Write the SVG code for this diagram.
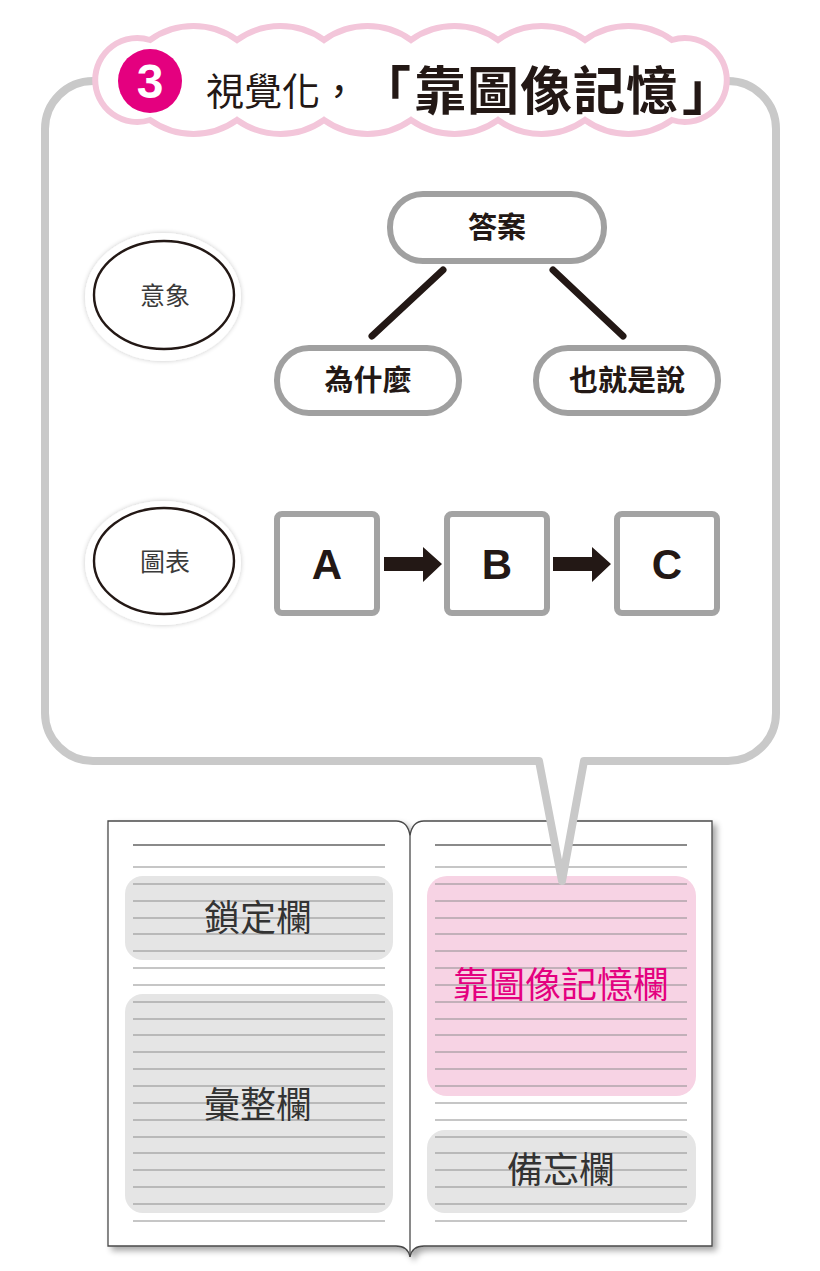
<svg xmlns="http://www.w3.org/2000/svg" xmlns:xlink="http://www.w3.org/1999/xlink" width="820" height="1271" viewBox="0 0 820 1271">
<defs>
<style>
.cjk{font-family:"Noto Sans CJK TC","Noto Sans CJK SC",sans-serif;}
.pill{fill:#fff;stroke:#a0a0a0;stroke-width:6;}
.box{fill:#fff;stroke:#a3a3a3;stroke-width:6;}
.pilltxt{font-family:"Noto Sans CJK TC",sans-serif;font-weight:700;font-size:29px;fill:#231815;text-anchor:middle;}
.letter{font-family:"Liberation Sans",Arial,sans-serif;font-weight:700;font-size:42px;fill:#231815;text-anchor:middle;}
.oval{fill:#fff;stroke:#231815;stroke-width:2.4;}
.ovaltxt{font-family:"Noto Sans CJK TC",sans-serif;font-size:25px;fill:#3a3a3a;text-anchor:middle;}
.rule{stroke:#8e8e8e;stroke-width:1.2;}
.coltxt{font-family:"Noto Sans CJK TC",sans-serif;font-size:36px;fill:#333;text-anchor:middle;}
.conn{stroke:#231815;stroke-width:7;stroke-linecap:round;fill:none;}
.arrow{fill:#231815;}
</style>
<filter id="halo" x="-20%" y="-20%" width="140%" height="140%">
<feGaussianBlur in="SourceAlpha" stdDeviation="2.5"/>
<feComponentTransfer><feFuncA type="linear" slope="0.22"/></feComponentTransfer>
<feMerge><feMergeNode/><feMergeNode in="SourceGraphic"/></feMerge>
</filter>
<filter id="pageshadow" x="-5%" y="-5%" width="112%" height="112%">
<feGaussianBlur in="SourceAlpha" stdDeviation="3"/>
<feOffset dx="4" dy="4"/>
<feComponentTransfer><feFuncA type="linear" slope="0.35"/></feComponentTransfer>
<feMerge><feMergeNode/><feMergeNode in="SourceGraphic"/></feMerge>
</filter>
<g id="rules">
<line class="rule" x1="133" y1="845" x2="385" y2="845" style="stroke-width:2;stroke:#8a8a8a"/>
<line class="rule" x1="133" y1="867" x2="385" y2="867"/>
<line class="rule" x1="133" y1="884" x2="385" y2="884"/>
<line class="rule" x1="133" y1="901" x2="385" y2="901"/>
<line class="rule" x1="133" y1="918" x2="385" y2="918"/>
<line class="rule" x1="133" y1="934" x2="385" y2="934"/>
<line class="rule" x1="133" y1="951" x2="385" y2="951"/>
<line class="rule" x1="133" y1="968" x2="385" y2="968"/>
<line class="rule" x1="133" y1="985" x2="385" y2="985"/>
<line class="rule" x1="133" y1="1002" x2="385" y2="1002"/>
<line class="rule" x1="133" y1="1019" x2="385" y2="1019"/>
<line class="rule" x1="133" y1="1035" x2="385" y2="1035"/>
<line class="rule" x1="133" y1="1052" x2="385" y2="1052"/>
<line class="rule" x1="133" y1="1069" x2="385" y2="1069"/>
<line class="rule" x1="133" y1="1086" x2="385" y2="1086"/>
<line class="rule" x1="133" y1="1103" x2="385" y2="1103"/>
<line class="rule" x1="133" y1="1120" x2="385" y2="1120"/>
<line class="rule" x1="133" y1="1137" x2="385" y2="1137"/>
<line class="rule" x1="133" y1="1153" x2="385" y2="1153"/>
<line class="rule" x1="133" y1="1170" x2="385" y2="1170"/>
<line class="rule" x1="133" y1="1187" x2="385" y2="1187"/>
<line class="rule" x1="133" y1="1204" x2="385" y2="1204"/>
<line class="rule" x1="133" y1="1221" x2="385" y2="1221"/>
</g>
</defs>
<rect width="820" height="1271" fill="#fff"/>

<!-- notebook -->
<g id="notebook">
<path d="M108,821 H396 Q408,821 410,836 Q412,821 424,821 H712 V1246 H424 Q412,1246 410,1257 Q408,1246 396,1246 H108 Z" fill="#fff" stroke="#4a4a4a" stroke-width="1.3" filter="url(#pageshadow)"/>
<line x1="410" y1="836" x2="410" y2="1257" stroke="#4a4a4a" stroke-width="1.3"/>
<rect x="125" y="876" width="268" height="84" rx="18" fill="#e5e5e5"/>
<rect x="125" y="994" width="268" height="219" rx="18" fill="#e5e5e5"/>
<rect x="427" y="876" width="269" height="220" rx="20" fill="#f7d3e4"/>
<rect x="427" y="1130" width="269" height="83" rx="18" fill="#e5e5e5"/>
<use xlink:href="#rules"/>
<use xlink:href="#rules" transform="translate(302,0)"/>
</g>
<g id="col-lock"><text class="coltxt" x="258" y="931">鎖定欄</text></g>
<g id="col-summary"><text class="coltxt" x="258" y="1118">彙整欄</text></g>
<g id="col-image"><text class="coltxt" x="561" y="998" style="fill:#e4007f">靠圖像記憶欄</text></g>
<g id="col-memo"><text class="coltxt" x="561" y="1183">備忘欄</text></g>

<!-- speech bubble -->
<g id="bubble">
<path d="M93,81 H728 A48,48 0 0 1 776,129 V713 A48,48 0 0 1 728,761 H584 L562,881 L539,761 H93 A48,48 0 0 1 45,713 V129 A48,48 0 0 1 93,81 Z" fill="#fff" stroke="#c9c9c9" stroke-width="8" stroke-linejoin="round"/>
</g>

<!-- title cloud -->
<g id="title">
<path d="M150,40 A75,75 0 0 1 237,40 A75,75 0 0 1 324,40 A75,75 0 0 1 411,40 A75,75 0 0 1 498,40 A75,75 0 0 1 585,40 A75,75 0 0 1 672,40 A42,42 0 1 1 672,120 A75,75 0 0 1 585,120 A75,75 0 0 1 498,120 A75,75 0 0 1 411,120 A75,75 0 0 1 324,120 A75,75 0 0 1 237,120 A75,75 0 0 1 150,120 A42,42 0 1 1 150,40 Z" fill="#fff" stroke="#f3c6da" stroke-width="6"/>
<circle cx="150" cy="81" r="32" fill="#e4007f"/>
<text x="150" y="98" font-family="Liberation Sans, Arial, sans-serif" font-weight="700" font-size="48" fill="#fff" text-anchor="middle">3</text>
<text class="cjk" fill="#231815"><tspan x="206" y="105" font-size="38">視覺化，</tspan><tspan x="359" y="110" font-size="52" font-weight="700">「</tspan><tspan x="414" y="110" font-size="52" font-weight="700" letter-spacing="1">靠圖像記憶</tspan><tspan x="682" y="110" font-size="52" font-weight="700">」</tspan></text>
</g>

<!-- image section -->
<g id="oval-image">
<ellipse cx="163" cy="297" rx="78" ry="64" fill="#fff" filter="url(#halo)"/>
<ellipse class="oval" cx="164" cy="295" rx="70" ry="54"/>
<text class="ovaltxt" x="165" y="305">意象</text>
</g>
<g id="oval-chart">
<ellipse cx="163" cy="563" rx="78" ry="62" fill="#fff" filter="url(#halo)"/>
<ellipse class="oval" cx="164" cy="561" rx="70" ry="53"/>
<text class="ovaltxt" x="165" y="571">圖表</text>
</g>

<g id="connectors">
<line class="conn" x1="443" y1="270" x2="372" y2="336"/>
<line class="conn" x1="553" y1="270" x2="623" y2="336"/>
<path class="arrow" d="M384,557 H423 V547 L442,564 L423,582 V571 H384 Z"/>
<path class="arrow" d="M553,557 H592 V547 L611,564 L592,582 V571 H553 Z"/>
</g>

<g id="node-answer"><rect class="pill" x="390" y="194" width="214" height="67" rx="33"/><text class="pilltxt" x="497" y="238">答案</text></g>
<g id="node-why"><rect class="pill" x="277" y="348" width="182" height="65" rx="32"/><text class="pilltxt" x="368" y="391">為什麼</text></g>
<g id="node-meaning"><rect class="pill" x="536" y="348" width="182" height="65" rx="32"/><text class="pilltxt" x="627" y="391">也就是說</text></g>

<g id="box-a"><rect class="box" x="277" y="514" width="100" height="99" rx="5"/><text class="letter" x="327" y="579">A</text></g>
<g id="box-b"><rect class="box" x="447" y="514" width="100" height="99" rx="5"/><text class="letter" x="497" y="579">B</text></g>
<g id="box-c"><rect class="box" x="617" y="514" width="100" height="99" rx="5"/><text class="letter" x="667" y="579">C</text></g>
</svg>
